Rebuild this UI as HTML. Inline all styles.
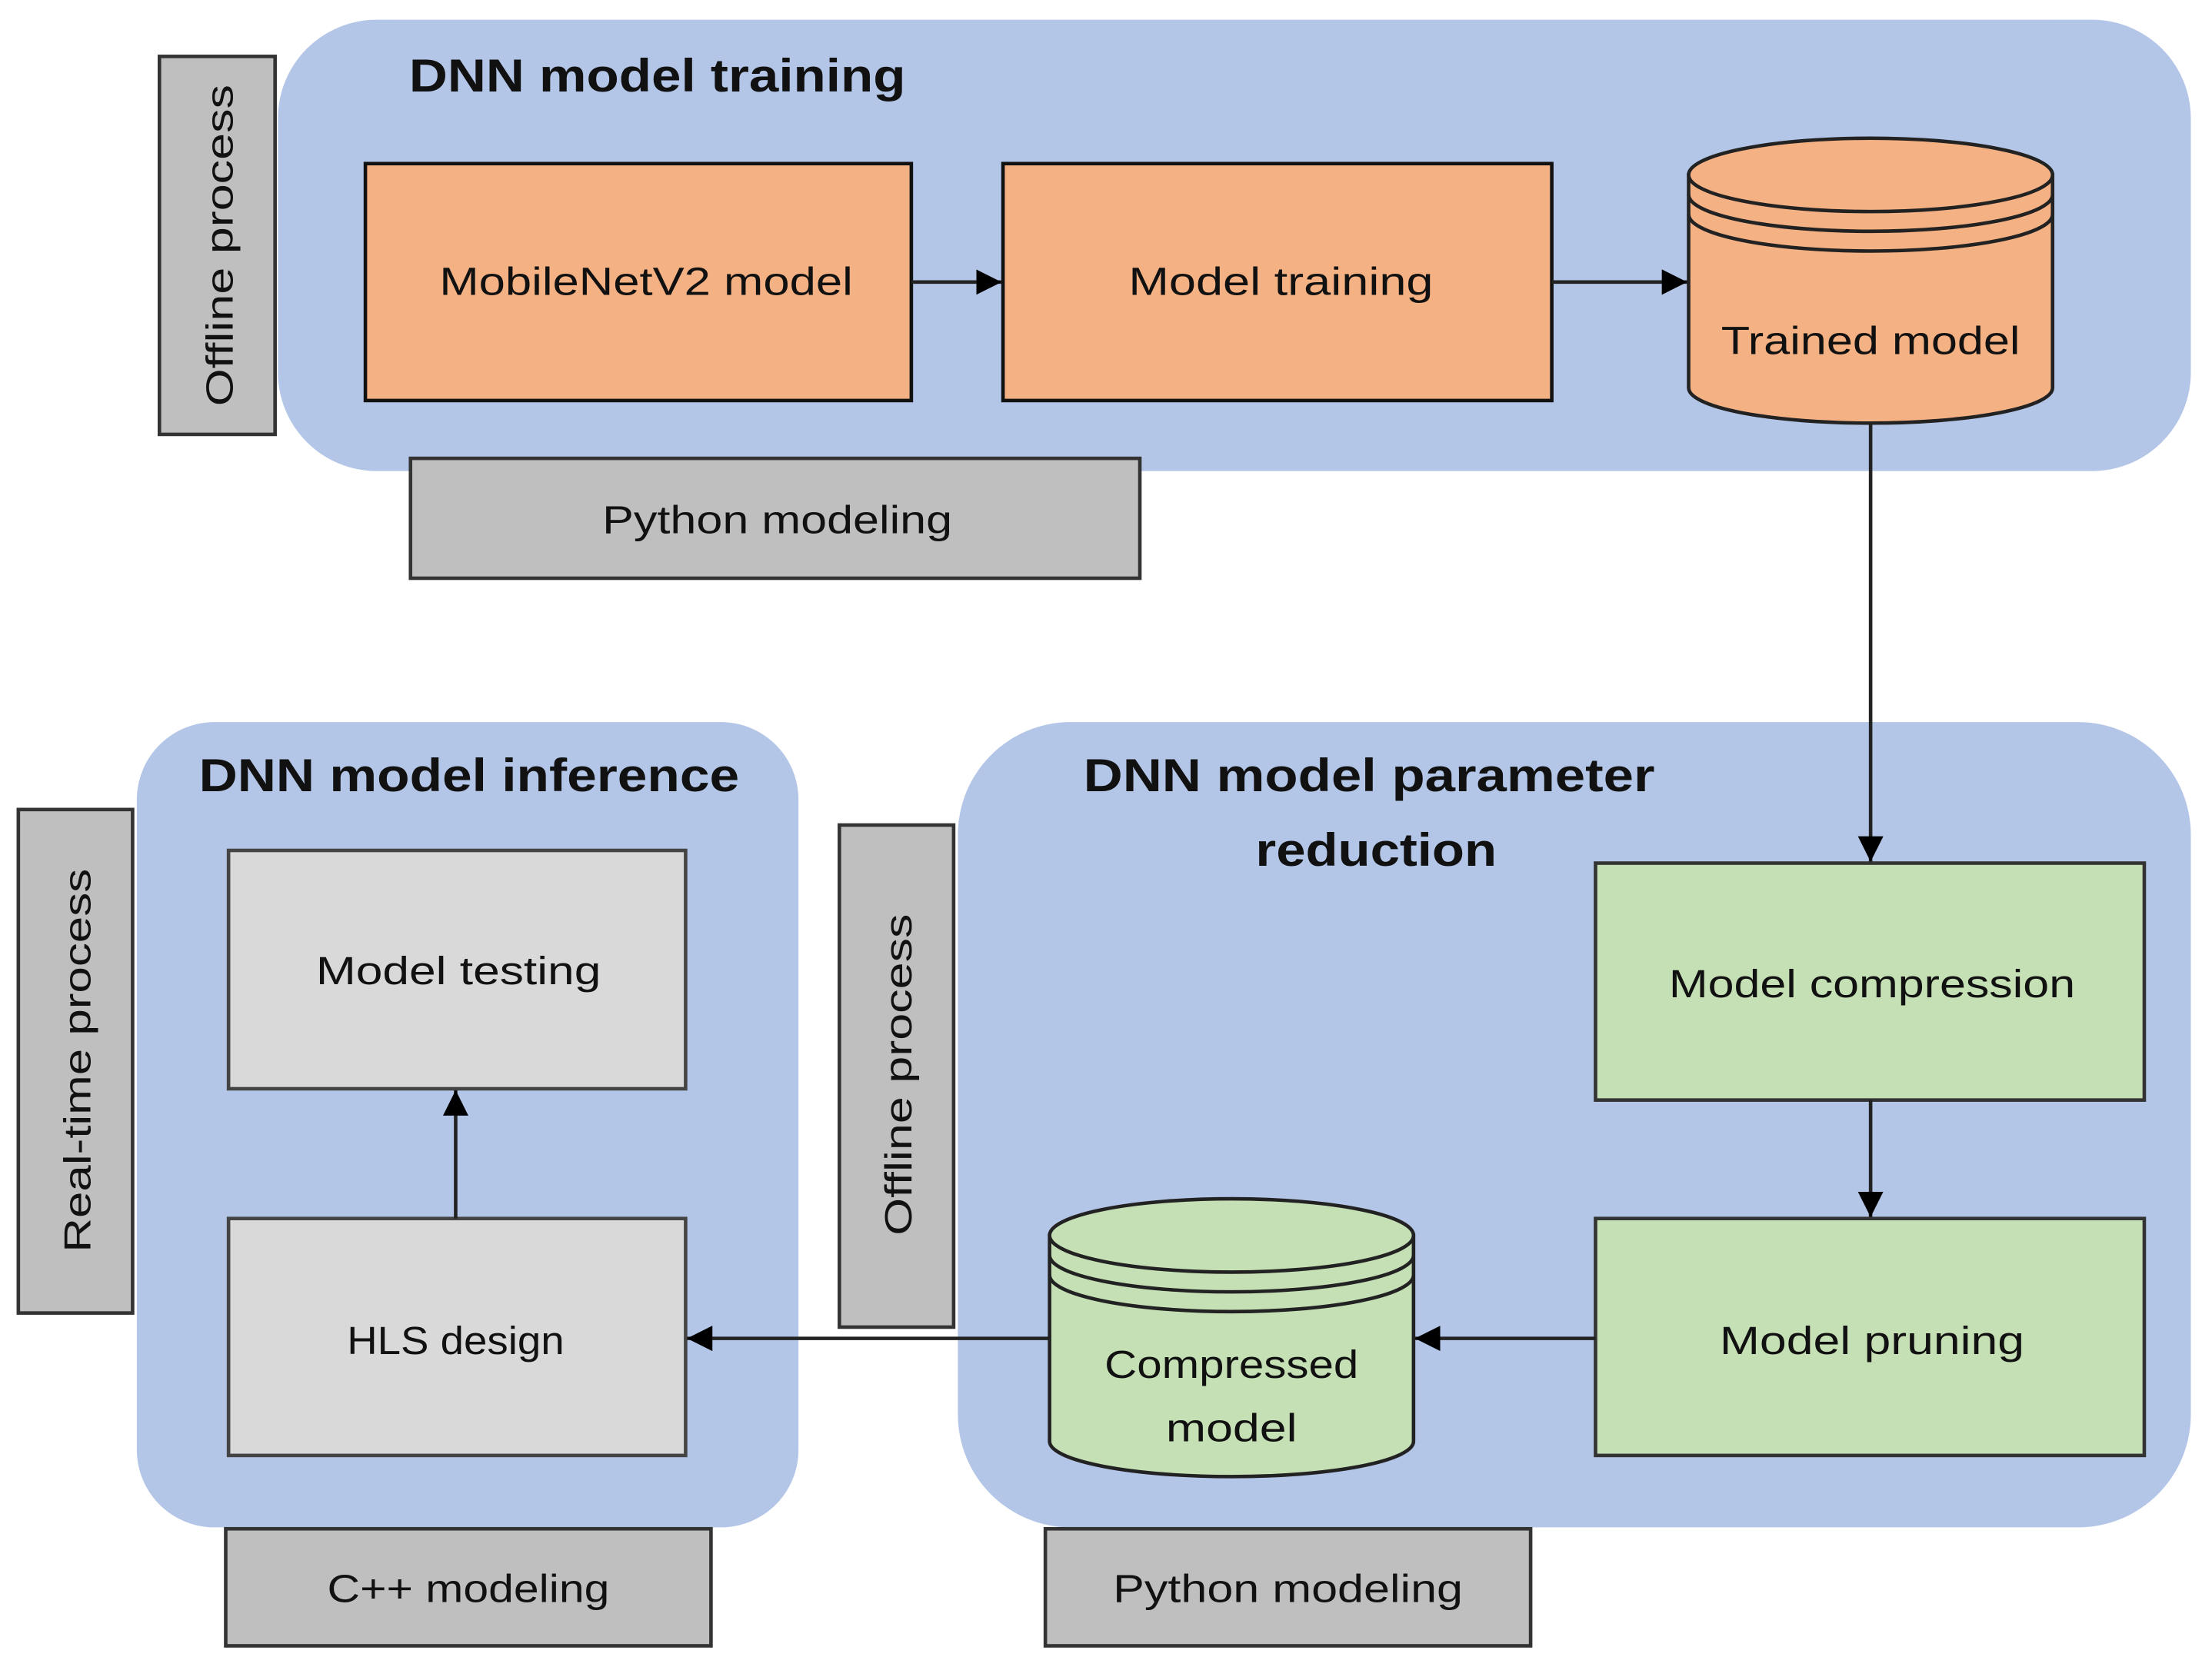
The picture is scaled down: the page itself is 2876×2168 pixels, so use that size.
<!DOCTYPE html>
<html><head><meta charset="utf-8"><style>
html,body{margin:0;padding:0;background:#fff;}
svg{display:block;}
text{font-family:"Liberation Sans",sans-serif;fill:#111;}
</style></head><body>
<svg width="2876" height="2168" viewBox="0 0 1568 1182" preserveAspectRatio="none" xmlns="http://www.w3.org/2000/svg">
<defs>
<marker id="a" markerWidth="18" markerHeight="18" refX="18" refY="9" orient="auto" markerUnits="userSpaceOnUse" viewBox="0 0 18 18">
<path d="M0,0 L18,9 L0,18 z" fill="#000"/></marker>
</defs>
<!-- panels -->
<rect x="197" y="14" width="1356" height="320" rx="70" fill="#b4c6e7"/>
<rect x="97" y="512" width="469" height="571" rx="55" fill="#b4c6e7"/>
<rect x="679" y="512" width="874" height="571" rx="80" fill="#b4c6e7"/>

<!-- side labels -->
<rect x="113" y="40" width="82" height="268" fill="#bfbfbf" stroke="#333" stroke-width="2.5"/>
<text transform="translate(165,174) rotate(-90)" text-anchor="middle" font-size="27" textLength="228" lengthAdjust="spacingAndGlyphs">Offline process</text>
<rect x="13" y="574" width="81" height="357" fill="#bfbfbf" stroke="#333" stroke-width="2.5"/>
<text transform="translate(64,752) rotate(-90)" text-anchor="middle" font-size="27" textLength="272" lengthAdjust="spacingAndGlyphs">Real-time process</text>
<rect x="595" y="585" width="81" height="356" fill="#bfbfbf" stroke="#333" stroke-width="2.5"/>
<text transform="translate(646,762) rotate(-90)" text-anchor="middle" font-size="27" textLength="228" lengthAdjust="spacingAndGlyphs">Offline process</text>

<!-- bottom labels -->
<rect x="291" y="325" width="517" height="85" fill="#bfbfbf" stroke="#333" stroke-width="2.5"/>
<text x="551" y="378" text-anchor="middle" font-size="28" textLength="248" lengthAdjust="spacingAndGlyphs">Python modeling</text>
<rect x="160" y="1084" width="344" height="83" fill="#bfbfbf" stroke="#333" stroke-width="2.5"/>
<text x="332" y="1136" text-anchor="middle" font-size="28" textLength="200" lengthAdjust="spacingAndGlyphs">C++ modeling</text>
<rect x="741" y="1084" width="344" height="83" fill="#bfbfbf" stroke="#333" stroke-width="2.5"/>
<text x="913" y="1136" text-anchor="middle" font-size="28" textLength="248" lengthAdjust="spacingAndGlyphs">Python modeling</text>

<!-- titles -->
<text x="290" y="65" font-size="33" font-weight="bold" textLength="352" lengthAdjust="spacingAndGlyphs">DNN model training</text>
<text x="141" y="561" font-size="33" font-weight="bold" textLength="383" lengthAdjust="spacingAndGlyphs">DNN model inference</text>
<text x="768" y="561" font-size="33" font-weight="bold" textLength="405" lengthAdjust="spacingAndGlyphs">DNN model parameter</text>
<text x="890" y="614" font-size="33" font-weight="bold" textLength="171" lengthAdjust="spacingAndGlyphs">reduction</text>

<!-- orange boxes -->
<rect x="259" y="116" width="387" height="168" fill="#f4b183" stroke="#111" stroke-width="2.5"/>
<text x="458" y="209" text-anchor="middle" font-size="28" textLength="293" lengthAdjust="spacingAndGlyphs">MobileNetV2 model</text>
<rect x="711" y="116" width="389" height="168" fill="#f4b183" stroke="#111" stroke-width="2.5"/>
<text x="908" y="209" text-anchor="middle" font-size="28" textLength="216" lengthAdjust="spacingAndGlyphs">Model training</text>

<!-- trained cylinder -->
<path d="M1197,124 L1197,275 A129,25 0 0 0 1455,275 L1455,124 Z" fill="#f4b183" stroke="#222" stroke-width="2.5"/>
<ellipse cx="1326" cy="124" rx="129" ry="26" fill="#f4b183" stroke="#222" stroke-width="2.5"/>
<path d="M1197,138 A129,26 0 0 0 1455,138 M1197,152 A129,26 0 0 0 1455,152" fill="none" stroke="#222" stroke-width="2.5"/>
<text x="1326" y="251" text-anchor="middle" font-size="28" textLength="212" lengthAdjust="spacingAndGlyphs">Trained model</text>

<!-- gray boxes -->
<rect x="162" y="603" width="324" height="169" fill="#d9d9d9" stroke="#444" stroke-width="2.5"/>
<text x="325" y="698" text-anchor="middle" font-size="28" textLength="202" lengthAdjust="spacingAndGlyphs">Model testing</text>
<rect x="162" y="864" width="324" height="168" fill="#d9d9d9" stroke="#444" stroke-width="2.5"/>
<text x="323" y="960" text-anchor="middle" font-size="28" textLength="154" lengthAdjust="spacingAndGlyphs">HLS design</text>

<!-- green boxes -->
<rect x="1131" y="612" width="389" height="168" fill="#c5e0b4" stroke="#333" stroke-width="2.5"/>
<text x="1327" y="707" text-anchor="middle" font-size="28" textLength="288" lengthAdjust="spacingAndGlyphs">Model compression</text>
<rect x="1131" y="864" width="389" height="168" fill="#c5e0b4" stroke="#333" stroke-width="2.5"/>
<text x="1327" y="960" text-anchor="middle" font-size="28" textLength="216" lengthAdjust="spacingAndGlyphs">Model pruning</text>

<!-- compressed cylinder -->
<path d="M744,876 L744,1022 A129,25 0 0 0 1002,1022 L1002,876 Z" fill="#c5e0b4" stroke="#222" stroke-width="2.5"/>
<ellipse cx="873" cy="876" rx="129" ry="26" fill="#c5e0b4" stroke="#222" stroke-width="2.5"/>
<path d="M744,890 A129,26 0 0 0 1002,890 M744,904 A129,26 0 0 0 1002,904" fill="none" stroke="#222" stroke-width="2.5"/>
<text x="873" y="977" text-anchor="middle" font-size="28" textLength="180" lengthAdjust="spacingAndGlyphs">Compressed</text>
<text x="873" y="1022" text-anchor="middle" font-size="28" textLength="93" lengthAdjust="spacingAndGlyphs">model</text>

<!-- connectors -->
<g stroke="#222" stroke-width="2.5" fill="none">
<line x1="646" y1="200" x2="710" y2="200" marker-end="url(#a)"/>
<line x1="1100" y1="200" x2="1196" y2="200" marker-end="url(#a)"/>
<line x1="1326" y1="300" x2="1326" y2="611" marker-end="url(#a)"/>
<line x1="1326" y1="780" x2="1326" y2="863" marker-end="url(#a)"/>
<line x1="1131" y1="949" x2="1003" y2="949" marker-end="url(#a)"/>
<line x1="744" y1="949" x2="487" y2="949" marker-end="url(#a)"/>
<line x1="323" y1="864" x2="323" y2="773" marker-end="url(#a)"/>
</g>
</svg>
</body></html>
